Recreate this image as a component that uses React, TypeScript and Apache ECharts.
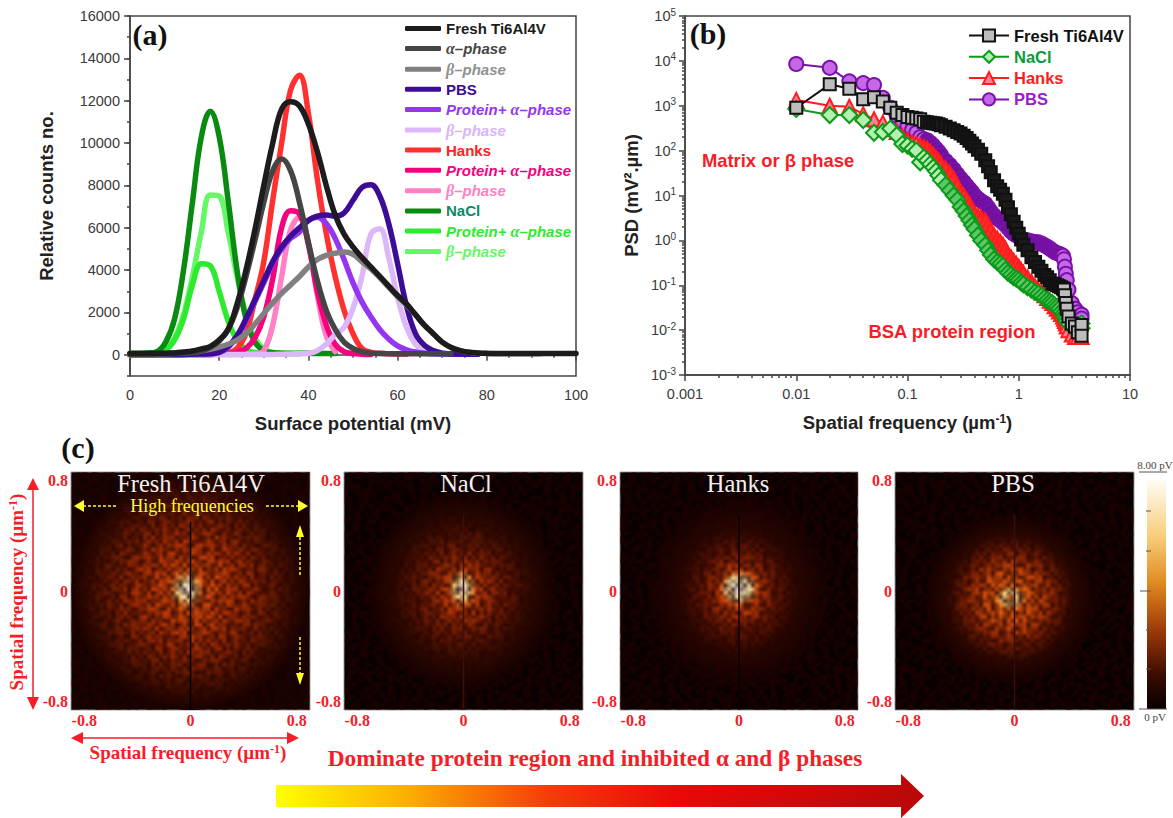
import React, { useEffect, useRef } from "react";
import * as echarts from "echarts";

// ---------- Panel (a): surface potential histograms, one value every 2 mV from 0 mV
const MV_STEP = 2;
const freshTotal = [60,60,60,70,80,90,130,180,280,400,700,1200,2400,4000,5900,8000,10000,11600,11950,11750,10900,9600,8000,6600,5700,5100,4600,4150,3700,3250,2800,2400,1900,1400,1000,600,350,200,120,90,70,60,60,60,60,60,60,60,60,60,60];
const freshAlpha = [30,30,40,40,50,60,70,100,170,350,650,1200,2200,3700,5400,7200,8700,9250,8700,7200,5300,3500,2100,1200,600,300,150,80,60,50,50,50,50,50,50,50,50];
const freshBeta = [30,30,40,50,60,70,90,120,180,260,370,500,700,1000,1450,1950,2450,2900,3300,3700,4150,4500,4700,4800,4850,4750,4400,4050,3650,3200,2750,2350,1900,1400,1000,600,350,200,120,80,60,50,50,50,50,50,50];
const pbsTotal = [20,20,20,20,20,20,20,30,40,50,120,400,900,1700,2600,3500,4400,5100,5600,6000,6350,6550,6600,6550,6700,7300,7900,8030,7500,6200,4300,2300,1000,450,200,80,50,40,30,30];
const pbsAlpha = [20,20,20,20,20,20,20,30,40,50,100,350,850,1600,2500,3400,4300,5000,5500,5800,6350,6500,6200,5500,4500,3400,2500,1800,1200,750,420,240,130,70,50,40,30,30,30,30];
const pbsBeta = [20,20,20,20,20,20,20,20,20,20,20,20,20,20,20,20,20,30,40,50,60,200,500,950,1300,2200,3700,5700,5950,4600,2700,1300,500,150,70,40,30,30,30,30];
const hanksTotal = [0,0,0,0,0,0,10,10,10,20,30,80,300,1000,2600,4400,7300,10000,12500,13200,11400,8300,5740,3700,2100,1000,300,120,70,50,40,30];
const hanksAlpha = [0,0,0,0,0,0,10,10,10,20,30,60,130,300,800,1800,3600,6000,6800,6650,5200,3000,1400,500,150,60,30,20];
const hanksBeta = [0,0,0,0,0,0,0,0,0,10,10,10,20,30,50,200,1400,3700,5900,6500,5300,2800,900,150];
const naclTotal = [80,80,90,150,600,1700,4000,7200,10300,11500,10300,7300,4000,1700,600,200,100,80,70,70,70,60,60,60];
const naclAlpha = [40,50,70,110,220,700,1700,3300,4300,4200,3000,1600,700,250,110,70,50,40];
const naclBeta = [40,50,80,130,300,800,1900,3700,5800,7550,7500,5800,3700,1900,800,280,120,70,50,40];

const legendLabelsA = ["Fresh Ti6Al4V","Fresh α–phase","Fresh β–phase","PBS","PBS Protein+ α–phase","PBS β–phase","Hanks","Hanks Protein+ α–phase","Hanks β–phase","NaCl","NaCl Protein+ α–phase","NaCl β–phase"];
const curvesA = [freshTotal,freshAlpha,freshBeta,pbsTotal,pbsAlpha,pbsBeta,hanksTotal,hanksAlpha,hanksBeta,naclTotal,naclAlpha,naclBeta];
const lineColorsA = ["#1c1c1c","#454545","#808080","#3d0c96","#9436f0","#dcb8fb","#ff3030","#f5007d","#ff80c4","#0b8a12","#2eea2e","#66f766"];
const textColorsA = ["#1c1c1c","#454545","#909090","#3d0c96","#9436f0","#d8b4fa","#ff2020","#f5007d","#ff80c4","#0b8a66","#2eea2e","#66f766"];
// back-to-front drawing order of the twelve curves
const drawOrderA = [11,10,9,6,8,7,5,4,3,2,1,0];

// ---------- Panel (b): PSD curves
const psdFreq = [0.01,0.02,0.03,0.04,0.05,0.06,0.07,0.08,0.09,0.1,0.11,0.12,0.13,0.14,0.15,0.16,0.17,0.18,0.19,0.2,0.22,0.24,0.26,0.28,0.3,0.32,0.34,0.36,0.38,0.4,0.43,0.46,0.5,0.53,0.56,0.6,0.64,0.68,0.72,0.76,0.8,0.85,0.9,0.95,1,1.05,1.1,1.2,1.3,1.4,1.5,1.6,1.7,1.8,1.9,2,2.1,2.2,2.3,2.4,2.5,2.55,2.6,2.65,2.7,2.8,3,3.2,3.4,3.67,3.67];
const psdFresh = [900,3000,2400,1400,1550,1250,900,700,620,560,540,520,500,440,430,420,410,400,385,368,340,310,285,260,240,215,190,165,145,125,105,85,61,45,33,22,16,13.5,11,8,5.5,3.8,2.6,1.9,1.4,1.05,0.8,0.6,0.42,0.33,0.26,0.21,0.17,0.15,0.13,0.11,0.105,0.1,0.095,0.09,0.085,0.08,0.06,0.04,0.03,0.02,0.014,0.012,0.009,0.013,0.0075];
const psdNacl = [850,620,620,480,250,260,310,220,140,130,110,100,55,70,60,50,42,35,28,22,17,13,10,8,5.6,4.5,3.5,2.8,2.2,1.8,1.3,1,0.79,0.6,0.48,0.38,0.33,0.3,0.27,0.22,0.19,0.17,0.15,0.14,0.13,0.115,0.105,0.09,0.08,0.07,0.065,0.058,0.052,0.047,0.043,0.04,0.036,0.033,0.03,0.026,0.023,0.021,0.02,0.018,0.016,0.014,0.012,0.01,0.01,0.014,0.011];
const psdHanks = [1350,1000,950,650,500,420,300,260,210,170,150,140,130,120,110,95,80,70,60,51,40,32,24,17,12,10,8,6.5,5,4,3.5,3.2,2.8,2.2,1.7,1.3,1.1,0.95,0.8,0.65,0.5,0.42,0.35,0.3,0.26,0.22,0.19,0.15,0.12,0.095,0.08,0.07,0.06,0.052,0.045,0.04,0.034,0.03,0.026,0.023,0.02,0.018,0.016,0.014,0.012,0.01,0.008,0.007,0.007,0.007,0.007];
const psdPbs = [8500,7000,3500,3200,2900,1500,900,600,450,350,290,250,200,180,170,150,130,110,95,80,60,48,38,30,24,20,16.5,14,12,10,8.5,7.5,6.6,5.4,4.4,3.6,3.1,2.8,2.5,2.2,1.9,1.6,1.4,1.3,1.2,1.1,1.05,1,0.95,0.92,0.9,0.85,0.78,0.72,0.66,0.6,0.55,0.52,0.5,0.48,0.45,0.38,0.26,0.18,0.13,0.08,0.04,0.03,0.025,0.022,0.018];
const legendLabelsB = ["PSD Fresh Ti6Al4V","PSD NaCl","PSD Hanks","PSD PBS"];
const curvesB = [psdFresh,psdNacl,psdHanks,psdPbs];
const lineColorsB = ["#111111","#0c9a1a","#ff1c1c","#7a12a8"];
const fillColorsB = ["#bdbdbd","#b4f0b0","#ff7f9a","#c468e8"];
const denseFillsB = ["#1a1a1a","#5cc868","#ff2a2a","#6c10a0"];
const symbolsB = ["rect","diamond","triangle","circle"];
const sizesB = [12,16,14,14];
const textColorsB = ["#111111","#0c9a3a","#ff1c1c","#9a1cc8"];
const denseStart = [14,20,12,14];
const denseEnd = 60;
const logMinorX = [0.002,0.003,0.004,0.005,0.006,0.007,0.008,0.009,0.02,0.03,0.04,0.05,0.06,0.07,0.08,0.09,0.2,0.3,0.4,0.5,0.6,0.7,0.8,0.9,2,3,4,5,6,7,8,9];
const logMinorY = [0.002,0.003,0.004,0.005,0.006,0.007,0.008,0.009,0.02,0.03,0.04,0.05,0.06,0.07,0.08,0.09,0.2,0.3,0.4,0.5,0.6,0.7,0.8,0.9,2,3,4,5,6,7,8,9,20,30,40,50,60,70,80,90,200,300,400,500,600,700,800,900,2000,3000,4000,5000,6000,7000,8000,9000,20000,30000,40000,50000,60000,70000,80000,90000];

// ---------- Panel (c): spectra
const panelTitles = ["Fresh Ti6Al4V","NaCl","Hanks","PBS"];
const panelTicks = [-0.8,0,0.8];
const glowCentres = [[0,0],[-0.01,0],[0,0],[-0.03,-0.05]];
const coreCentres = [[-0.03,0.01],[-0.01,0.02],[0,0.02],[-0.03,-0.05]];
const streakX = [0,0];
const streakY = [[-0.86,0.5],[-0.86,0.55],[-0.86,0.55],[-0.86,0.55]];
const colourbarTicks = [511,551,591,630,669];
// hand-typed mottling tile: 0 = clear, f = darkest
const speckleTile = [
  "3a7d1f92c6e0485b",
  "e15b94a07d3f82c6",
  "7c20f6d3a9185e4b",
  "4e9b7168f2c0da35",
  "b3f05ac4e7296d18",
  "8216de3b907fa4c5",
  "d6a4713fc5e0829b",
  "09e8c25ba16d74f3",
  "5f3b8ed07429c1a6",
  "a27c4196fb3ed058",
  "16d0fa58c3847e29",
  "c94e27b3061fa8d5",
  "70b58dc9e42a163f",
  "e3291f6a75db0c84",
  "4ad87c03f9b5e261",
  "b6f13e924ac8705d",
];

const fontSans = '"Liberation Sans", Arial, sans-serif';
const fontSerif = '"Liberation Serif", "Times New Roman", serif';

const panelBackgrounds = ["#120300","#040000","#040000","#040000"];
const glowSizes = [[238,238],[196,204],[190,204],[176,176]];
const coreSizes = [[40,44],[34,46],[44,40],[34,28]];
const glowStops = [
  [[0,"#ee6410"],[0.2,"#d8480a"],[0.45,"#ac3004"],[0.7,"#6a1c02"],[0.9,"#300a01"],[1,"#120300"]],
  [[0,"#e25410"],[0.2,"#be3a08"],[0.42,"#761e04"],[0.68,"#340c02"],[1,"#040000"]],
  [[0,"#ee6010"],[0.2,"#ce4008"],[0.38,"#701a04"],[0.62,"#2a0802"],[1,"#040000"]],
  [[0,"#f47214"],[0.3,"#de500a"],[0.5,"#8c2604"],[0.72,"#2e0a02"],[1,"#040000"]],
];
const coreStops = [
  [[0,"#ffffff"],[0.45,"#ffe090"],[1,"rgba(238,100,16,0)"]],
  [[0,"#ffffff"],[0.45,"#ffd880"],[1,"rgba(226,84,16,0)"]],
  [[0,"#ffffff"],[0.55,"#ffe8a0"],[1,"rgba(238,96,16,0)"]],
  [[0,"#d06818"],[0.45,"#ffe090"],[0.7,"#f8a040"],[1,"rgba(244,114,20,0)"]],
];
const streakColours = ["#050000","#3c1208","#0a0000","#32100a"];

const rgrad = (stops: any[]) => ({
  type: "radial", x: 0.5, y: 0.5, r: 0.5,
  colorStops: stops.map(([offset, color]) => ({ offset, color })),
});

const panelGrids = [
  { left: 71, top: 472, width: 239, height: 238 },
  { left: 344, top: 472, width: 239, height: 238 },
  { left: 620, top: 472, width: 238, height: 238 },
  { left: 895, top: 472, width: 239, height: 238 },
];

const pairs = (ys: number[]) => ys.map((v, i) => [i * MV_STEP, v]);
const yellow = "#ffff30";
const red = "#f51e28";
const TOP = 100;

function arrowV(x: number, y1: number, y2: number, color: string, headW: number, headL: number, dir: number) {
  return [
    { type: "line", z: TOP, shape: { x1: x, y1, x2: x, y2 }, style: { stroke: color, lineWidth: 1.5, lineDash: [3, 2] } },
    { type: "polygon", z: TOP, shape: { points: [[x, y2 + dir * headL], [x - headW, y2], [x + headW, y2]] }, style: { fill: color } },
  ];
}
function arrowH(y: number, x1: number, x2: number, color: string, headW: number, headL: number, dir: number) {
  return [
    { type: "line", z: TOP, shape: { x1, y1: y, x2, y2: y }, style: { stroke: color, lineWidth: 1.5, lineDash: [3, 2] } },
    { type: "polygon", z: TOP, shape: { points: [[x2 + dir * headL, y], [x2, y - headW], [x2, y + headW]] }, style: { fill: color } },
  ];
}
const label = (text: string, x: number, y: number, style: any, extra: any = {}) => ({
  type: "text", z: TOP, x, y, ...extra, style: { text, textAlign: "center", textVerticalAlign: "middle", ...style },
});

function speckleImage(panel: number) {
  const n = 60;
  const c = document.createElement("canvas");
  c.width = n;
  c.height = n;
  const ctx = c.getContext("2d")!;
  for (let j = 0; j < n; j++) {
    for (let i = 0; i < n; i++) {
      const col = (i + 7 * Math.floor(j / 16) + 5 * panel) % 16;
      const row = (j + 3 * Math.floor(i / 16) + 9 * panel) % 16;
      const d = parseInt(speckleTile[row][col], 16) / 15;
      ctx.fillStyle = `rgba(36,3,0,${(d * 0.82).toFixed(3)})`;
      ctx.fillRect(i, j, 1, 1);
    }
  }
  return c.toDataURL();
}

export default function App() {
  const ref = useRef<HTMLDivElement>(null);
  useEffect(() => {
    const chart = echarts.init(ref.current!, null, { renderer: "svg" });

    const tickText = { color: "#3a3a3a", fontFamily: fontSans, fontSize: 14.5 };
    const axisNameStyle = { color: "#222", fontFamily: fontSans, fontWeight: "bold", fontSize: 18.5 };
    const frame = { color: "#444", width: 1.5 };
    const plain = (v: number) => String(v);

    const xAxis: any[] = [
      { type: "value", gridIndex: 0, min: 0, max: 100, interval: 20, minorTick: { show: true, splitNumber: 4, length: 3, lineStyle: frame }, axisTick: { inside: false, length: 6, lineStyle: frame }, axisLine: { lineStyle: frame }, splitLine: { show: false }, minorSplitLine: { show: false }, axisLabel: { ...tickText, margin: 11, formatter: plain }, name: "Surface potential (mV)", nameLocation: "middle", nameGap: 38, nameTextStyle: axisNameStyle },
      { type: "log", gridIndex: 1, logBase: 10, min: 0.001, max: 10, axisTick: { length: 6, lineStyle: frame }, axisLine: { onZero: false, lineStyle: frame }, splitLine: { show: false }, axisLabel: { ...tickText, margin: 11, formatter: (v: number) => String(+v.toPrecision(1)) }, name: "{a|Spatial frequency (µm}{s|-1}{a|)}", nameLocation: "middle", nameGap: 38, nameTextStyle: { ...axisNameStyle, rich: { a: axisNameStyle, s: { ...axisNameStyle, fontSize: 12, padding: [0, 0, 7, 0] } } } },
    ];
    const yAxis: any[] = [
      { type: "value", gridIndex: 0, min: -1000, max: 16000, interval: 1000, axisLine: { onZero: false, lineStyle: frame }, splitLine: { show: false }, axisTick: { customValues: [0,2000,4000,6000,8000,10000,12000,14000,16000], length: 6, lineStyle: frame }, axisLabel: { ...tickText, margin: 10, customValues: [0,2000,4000,6000,8000,10000,12000,14000,16000], formatter: plain }, name: "Relative counts no.", nameLocation: "middle", nameGap: 74, nameTextStyle: axisNameStyle },
      { type: "value", gridIndex: 0, min: -1000, max: 16000, interval: 1000, position: "left", axisLine: { show: false }, splitLine: { show: false }, axisTick: { show: true, length: 3, lineStyle: frame }, axisLabel: { show: false } },
      { type: "log", gridIndex: 1, logBase: 10, min: 0.001, max: 100000, axisTick: { length: 6, lineStyle: frame }, axisLine: { onZero: false, lineStyle: frame }, splitLine: { show: false }, axisLabel: { ...tickText, margin: 9, formatter: (v: number) => `{b|10}{s|${Math.round(Math.log10(v))}}`, rich: { b: { ...tickText }, s: { ...tickText, fontSize: 10, padding: [0, 0, 8, 0] } } }, name: "PSD (mV².µm)", nameLocation: "middle", nameGap: 44, nameTextStyle: axisNameStyle },
    ];
    const gridList: any[] = [
      { left: 130, top: 16, width: 446, height: 360, show: true, borderColor: "#444", borderWidth: 1.5, backgroundColor: "transparent" },
      { left: 685, top: 16, width: 445, height: 359, show: true, borderColor: "#444", borderWidth: 1.5, backgroundColor: "transparent" },
    ];
    const series: any[] = [];

    // (a), drawn back to front
    for (const i of drawOrderA) {
      series.push({
        type: "line", name: legendLabelsA[i], xAxisIndex: 0, yAxisIndex: 0, smooth: 0.4, showSymbol: false, silent: true,
        data: pairs(curvesA[i]), lineStyle: { color: lineColorsA[i], width: 5.5, cap: "round", join: "round" }, itemStyle: { color: lineColorsA[i] },
      });
    }
    series.push({ type: "line", xAxisIndex: 0, yAxisIndex: 1, data: [], silent: true });
    // (b)
    for (let i = curvesB.length - 1; i >= 0; i--) {
      series.push({
        type: "line", name: legendLabelsB[i], xAxisIndex: 1, yAxisIndex: 2, symbol: symbolsB[i], symbolSize: sizesB[i], showAllSymbol: true, silent: true,
        data: psdFreq.map((f, k) => ({
          value: [f, curvesB[i][k]],
          itemStyle: k >= denseStart[i] && k < denseEnd ? { color: denseFillsB[i] } : undefined,
        })),
        lineStyle: { color: lineColorsB[i], width: 2 },
        itemStyle: { color: fillColorsB[i], borderColor: lineColorsB[i], borderWidth: 2 },
      });
    }
    // (c)
    panelGrids.forEach((g, i) => {
      gridList.push({ ...g, show: true, backgroundColor: panelBackgrounds[i], borderColor: "#a0a0a0", borderWidth: 1 });
      const ax = 2 + i, ay = 3 + i;
      const common = { show: true, axisLine: { show: false, onZero: false }, axisTick: { show: false }, splitLine: { show: false } };
      const lbl = { color: red, fontFamily: fontSerif, fontWeight: "bold", fontSize: 16 };
      xAxis.push({ type: "value", gridIndex: 2 + i, min: -0.9, max: 0.9, ...common, axisLabel: { ...lbl, margin: 2, customValues: panelTicks, formatter: plain } });
      yAxis.push({ type: "value", gridIndex: 2 + i, min: -0.86, max: 0.86, ...common, axisLabel: { ...lbl, margin: 3, customValues: panelTicks, formatter: plain } });
      series.push({ type: "scatter", z: 1, xAxisIndex: ax, yAxisIndex: ay, silent: true, clip: false, symbol: "circle", symbolSize: glowSizes[i], data: [glowCentres[i]], itemStyle: { color: rgrad(glowStops[i]), opacity: 1 } });
      series.push({ type: "scatter", z: 2, xAxisIndex: ax, yAxisIndex: ay, silent: true, clip: false, symbol: "circle", symbolSize: coreSizes[i], data: [coreCentres[i]], itemStyle: { color: rgrad(coreStops[i]), opacity: 1 } });
      series.push({ type: "line", z: 4, xAxisIndex: ax, yAxisIndex: ay, silent: true, showSymbol: false, data: streakY[i].map((y, k) => [streakX[k], y]), lineStyle: { color: streakColours[i], width: 1.5 } });
    });
    // log-spaced minor ticks of panel (b), on twin axes without labels or lines
    xAxis.push({ type: "log", gridIndex: 1, logBase: 10, min: 0.001, max: 10, position: "bottom", axisLine: { show: false, onZero: false }, splitLine: { show: false }, axisLabel: { show: false }, axisTick: { show: true, length: 3, lineStyle: frame, customValues: logMinorX } });
    yAxis.push({ type: "log", gridIndex: 1, logBase: 10, min: 0.001, max: 100000, position: "left", axisLine: { show: false, onZero: false }, splitLine: { show: false }, axisLabel: { show: false }, axisTick: { show: true, length: 3, lineStyle: frame, customValues: logMinorY } });
    series.push({ type: "line", xAxisIndex: 6, yAxisIndex: 7, data: [], silent: true });

    const legendTextA = (name: string) => {
      const n = name.replace(/^(Fresh|PBS|Hanks|NaCl) (?=Protein|α|β)/, "");
      const parts = n.split(/([αβ])/);
      const isPhase = parts.length > 1;
      return parts.map((p) => (p === "" ? "" : p === "α" || p === "β" ? `{g|${p}}` : `{${isPhase ? "t" : "n"}|${p}}`)).join("");
    };
    const richLegend = {
      n: { fontFamily: fontSans, fontSize: 15, fontWeight: "bold" },
      t: { fontFamily: fontSans, fontSize: 15, fontWeight: "bold", fontStyle: "italic" },
      g: { fontFamily: fontSerif, fontSize: 16, fontWeight: "bold", fontStyle: "italic" },
    };
    const redRich = {
      a: { font: `bold 19px ${fontSerif}`, fill: red, color: red },
      s: { font: `bold 12px ${fontSerif}`, fill: red, color: red, padding: [0, 0, 7, 0] },
    };

    const graphic: any[] = [
      ...panelGrids.map((g, i) => ({
        type: "image", z: 3, x: g.left, y: g.top,
        style: { image: speckleImage(i), width: g.width, height: g.height, opacity: 1 },
      })),
      label("(a)", 150, 34, { font: `bold 30px ${fontSerif}`, fill: "#111" }),
      label("(b)", 708, 33, { font: `bold 30px ${fontSerif}`, fill: "#111" }),
      label("(c)", 78, 447, { font: `bold 30px ${fontSerif}`, fill: "#111" }),
      label("Matrix or β phase", 778, 160, { font: `bold 18.4px ${fontSans}`, fill: red }),
      label("BSA protein region", 952, 331, { font: `bold 18.4px ${fontSans}`, fill: red }),
      ...panelTitles.map((t, i) =>
        label(t, [191, 466, 738, 1013][i], 483, { font: `24.5px ${fontSerif}`, fill: "#f2f2f2" })),
      label("High frequencies", 192, 506, { font: `18px ${fontSerif}`, fill: yellow }),
      ...arrowH(506, 116, 84, yellow, 6, 10, -1),
      ...arrowH(506, 266, 298, yellow, 6, 10, 1),
      ...arrowV(300, 575, 537, yellow, 4, 12, -1),
      ...arrowV(300, 637, 673, yellow, 4, 12, 1),
      { type: "line", shape: { x1: 33, y1: 488, x2: 33, y2: 697 }, style: { stroke: red, lineWidth: 1.5 } },
      { type: "polygon", shape: { points: [[33, 478], [27, 490], [39, 490]] }, style: { fill: red } },
      { type: "polygon", shape: { points: [[33, 710], [27, 697], [39, 697]] }, style: { fill: red } },
      { type: "line", shape: { x1: 82, y1: 738, x2: 288, y2: 738 }, style: { stroke: red, lineWidth: 1.5 } },
      { type: "polygon", shape: { points: [[71, 738], [83, 732], [83, 744]] }, style: { fill: red } },
      { type: "polygon", shape: { points: [[299, 738], [287, 732], [287, 744]] }, style: { fill: red } },
      {
        type: "text", x: 16, y: 592, rotation: Math.PI / 2,
        style: { text: "{a|Spatial frequency (µm}{s|-1}{a|)}", textAlign: "center", textVerticalAlign: "middle", rich: redRich },
      },
      {
        type: "text", x: 188, y: 752,
        style: { text: "{a|Spatial frequency (µm}{s|-1}{a|)}", textAlign: "center", textVerticalAlign: "middle", rich: redRich },
      },
      label("Dominate protein region and inhibited α and β phases", 595, 758, { font: `bold 23.3px ${fontSerif}`, fill: red }),
      {
        type: "polygon",
        shape: { points: [[276, 785], [901, 785], [901, 774], [924, 796], [901, 818], [901, 807], [276, 807]] },
        style: { fill: { type: "linear", x: 0, y: 0, x2: 1, y2: 0, colorStops: [{ offset: 0, color: "#ffff00" }, { offset: 0.2, color: "#fbb000" }, { offset: 0.42, color: "#f53c0a" }, { offset: 0.62, color: "#ea0808" }, { offset: 1, color: "#b80808" }] } },
      },
      {
        type: "rect", shape: { x: 1147, y: 480, width: 19, height: 229 },
        style: { fill: { type: "linear", x: 0, y: 1, x2: 0, y2: 0, colorStops: [{ offset: 0, color: "#060000" }, { offset: 0.15, color: "#3c0c00" }, { offset: 0.35, color: "#a03c08" }, { offset: 0.55, color: "#e08a20" }, { offset: 0.75, color: "#f8cc78" }, { offset: 1, color: "#fffdf6" }] } },
      },
      { type: "line", shape: { x1: 1139, y1: 472, x2: 1167, y2: 472 }, style: { stroke: "#555", lineWidth: 1 } },
      { type: "line", shape: { x1: 1139, y1: 709, x2: 1167, y2: 709 }, style: { stroke: "#555", lineWidth: 1 } },
      ...colourbarTicks.map((y, i) => ({ type: "line", z: TOP, shape: { x1: i === 2 ? 1140 : 1146, y1: y, x2: 1151, y2: y }, style: { stroke: "#555", lineWidth: 1 } })),
      label("8.00 pV", 1155, 465, { font: `11px ${fontSerif}`, fill: "#444" }),
      label("0 pV", 1155, 717, { font: `11px ${fontSerif}`, fill: "#444" }),
    ];

    chart.setOption({
      animation: false,
      backgroundColor: "#ffffff",
      grid: gridList,
      xAxis,
      yAxis,
      series,
      graphic,
      legend: [
        {
          orient: "vertical", left: 405, top: 21, padding: 0, itemGap: 4.6, itemWidth: 36, itemHeight: 5, icon: "roundRect", selectedMode: false,
          formatter: legendTextA,
          textStyle: { rich: richLegend, fontFamily: fontSans, fontSize: 15, fontWeight: "bold" },
          data: legendLabelsA.map((name, i) => ({ name, textStyle: { color: textColorsA[i] } })),
        },
        {
          orient: "vertical", left: 968, top: 27, padding: 0, itemGap: 4.3, itemWidth: 40, itemHeight: 15, selectedMode: false,
          formatter: (n: string) => n.replace("PSD ", ""),
          textStyle: { fontFamily: fontSans, fontSize: 16.5, fontWeight: "bold" },
          data: legendLabelsB.map((name, i) => ({ name, textStyle: { color: textColorsB[i] } })),
        },
      ],
    });
    return () => chart.dispose();
  }, []);
  return <div ref={ref} style={{ position: "absolute", left: 0, top: 0, width: 1173, height: 818, background: "#fff" }} />;
}
